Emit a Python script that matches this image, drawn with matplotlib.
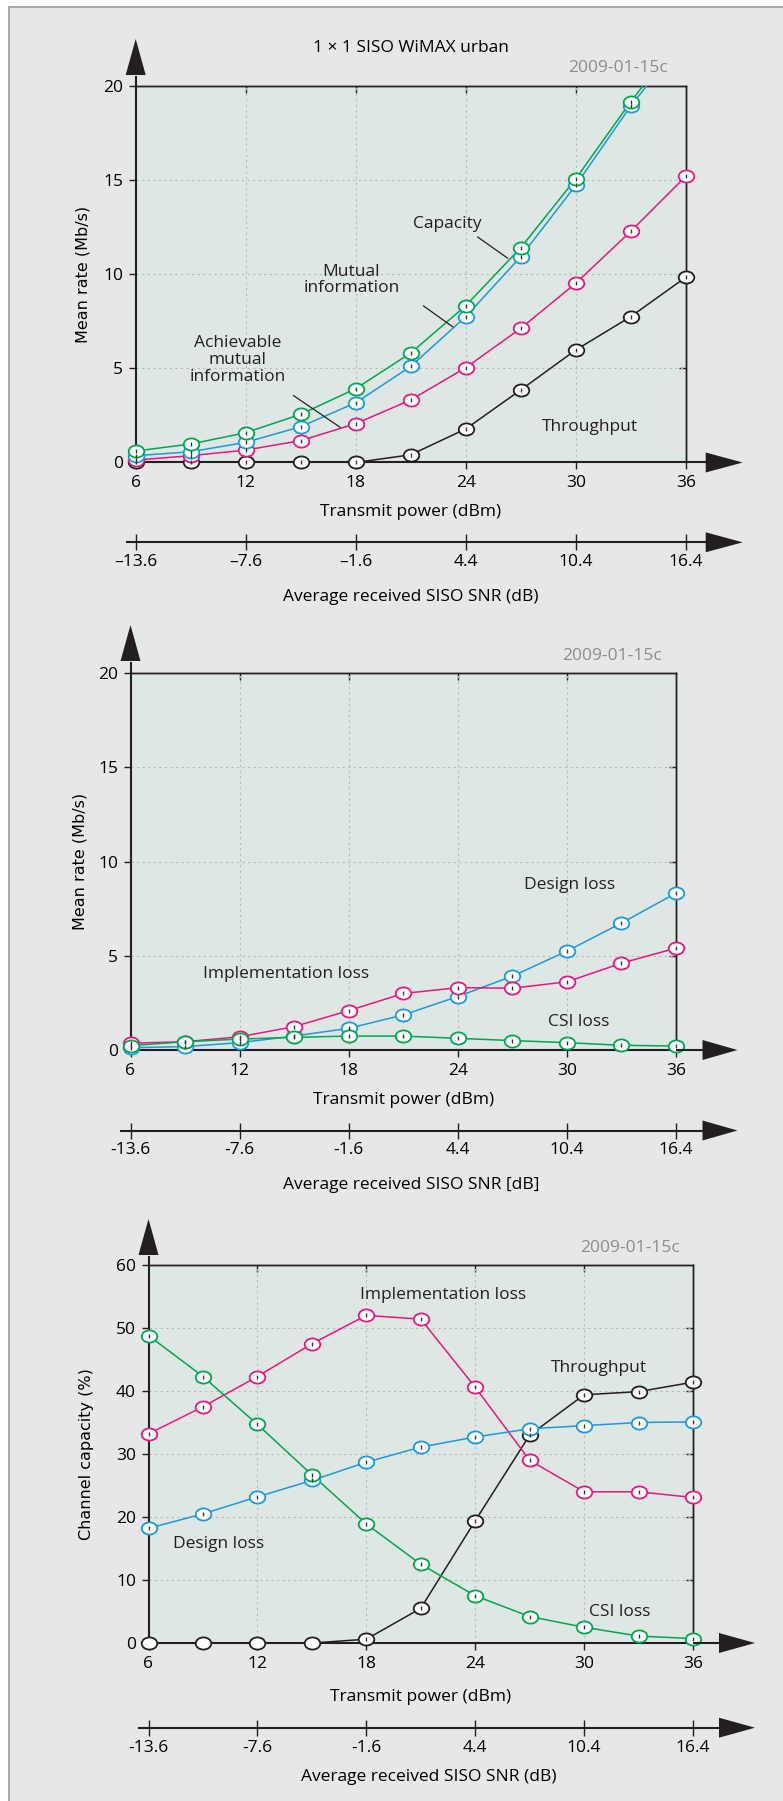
import matplotlib
matplotlib.use('Agg')
import matplotlib.pyplot as plt
import matplotlib.transforms as mtransforms
import numpy as np
from matplotlib.lines import Line2D
from matplotlib.patches import Polygon, Rectangle
from matplotlib.path import Path

W, H = 783, 1801

# data
power = [6, 9, 12, 15, 18, 21, 24, 27, 30, 33, 36]
power_ticks = [6, 12, 18, 24, 30, 36]
snr_ticks_1 = ['\u201313.6', '\u20137.6', '\u20131.6', '4.4', '10.4', '16.4']
snr_ticks_23 = ['-13.6', '-7.6', '-1.6', '4.4', '10.4', '16.4']

capacity = [0.61, 0.98, 1.58, 2.56, 3.92, 5.81, 8.32, 11.4, 15.05, 19.15, 22.9]
mutual_info = [0.36, 0.57, 1.07, 1.90, 3.17, 5.10, 7.74, 10.92, 14.71, 18.92, 22.6]
achievable_mi = [0.13, 0.36, 0.66, 1.16, 2.06, 3.32, 5.03, 7.12, 9.51, 12.27, 15.19]
throughput = [0.0, 0.0, 0.0, 0.0, 0.0, 0.41, 1.78, 3.85, 5.97, 7.74, 9.83]

design_loss = [0.12, 0.18, 0.39, 0.74, 1.15, 1.86, 2.84, 3.92, 5.25, 6.74, 8.33]
impl_loss = [0.36, 0.44, 0.70, 1.24, 2.09, 3.00, 3.31, 3.28, 3.62, 4.61, 5.41]
csi_loss = [0.23, 0.44, 0.58, 0.67, 0.74, 0.74, 0.62, 0.50, 0.39, 0.25, 0.21]

csi_pct = [48.8, 42.3, 34.7, 26.7, 18.9, 12.5, 7.5, 4.2, 2.5, 1.1, 0.7]
impl_pct = [33.2, 37.5, 42.3, 47.5, 52.0, 51.4, 40.6, 29.0, 24.0, 24.0, 23.1]
design_pct = [18.2, 20.5, 23.2, 25.8, 28.7, 31.1, 32.7, 34.0, 34.5, 35.0, 35.1]
thru_pct = [0.0, 0.0, 0.0, 0.0, 0.6, 5.5, 19.4, 33.0, 39.4, 39.9, 41.4]

GREEN = '#00a650'
BLUE = '#1b9ad8'
PINK = '#e8177d'
BLACK = '#231f20'
FIG_BG = '#e6e7e9'
PLOT_BG = '#dfe7e4'
GRID = '#b4bcb9'
STAMP = '#8c8c8c'
FONT = ['Open Sans', 'DejaVu Sans']
FS = 12.5

ELLIPSE = Path.unit_circle().transformed(mtransforms.Affine2D().scale(1.0, 0.78))


def fx(x):
    return x / W


def fy(y):
    return 1 - y / H


def fig_line(fig, xs, ys, lw=1.5):
    fig.add_artist(Line2D([fx(v) for v in xs], [fy(v) for v in ys],
                          transform=fig.transFigure, color=BLACK, lw=lw,
                          solid_capstyle='butt'))


def fig_tri(fig, pts):
    fig.add_artist(Polygon([(fx(a), fy(b)) for a, b in pts], closed=True,
                           transform=fig.transFigure, color=BLACK, lw=0))


def fig_text(fig, x, y, s, **kw):
    kw.setdefault('family', FONT)
    kw.setdefault('fontsize', FS)
    kw.setdefault('ha', 'center')
    kw.setdefault('va', 'center')
    fig.text(fx(x), fy(y), s, **kw)


def make_panel(fig, box, ylim, yticks, arrow, ylabel, ylabel_x, xlabel_y,
               snr_y, snr_start, snr_labels, snr_title, snr_title_xy, stamp_xy):
    l, t, r, b = box
    ax = fig.add_axes([fx(l), fy(b), (r - l) / W, (b - t) / H])
    ax.set_facecolor(PLOT_BG)
    ax.set_xlim(6, 36)
    ax.set_ylim(*ylim)
    ax.set_xticks(power_ticks)
    ax.set_yticks(yticks)
    ax.set_xticklabels([str(v) for v in power_ticks], family=FONT, fontsize=FS)
    ax.set_yticklabels([str(v) for v in yticks], family=FONT, fontsize=FS)
    ax.tick_params(direction='out', length=5, width=1, color=BLACK, pad=4)
    for sp in ['left', 'bottom']:
        ax.spines[sp].set_linewidth(1.5)
    for sp in ['top', 'right']:
        ax.spines[sp].set_linewidth(1.0)
    for sp in ax.spines.values():
        sp.set_color(BLACK)
        sp.set_zorder(2.5)
    for v in power_ticks[1:-1]:
        ax.axvline(v, color=GRID, lw=0.8, ls=(0, (2, 3)), zorder=1)
    for v in yticks[1:-1]:
        ax.axhline(v, color=GRID, lw=0.8, ls=(0, (2, 3)), zorder=1)
    # inner ticks on top and right
    top = ax.secondary_xaxis('top')
    top.set_xticks(power_ticks[1:-1])
    top.tick_params(direction='in', length=5, width=1, labeltop=False, color=BLACK)
    top.spines['top'].set_linewidth(1.0)
    right = ax.secondary_yaxis('right')
    right.set_yticks(yticks[1:-1])
    right.tick_params(direction='in', length=5, width=1, labelright=False, color=BLACK)
    right.spines['right'].set_linewidth(1.0)

    # axis arrows
    up_tip, up_base, rx_base, rx_tip = arrow
    fig_line(fig, [l, l], [t, up_base + 1])
    fig_tri(fig, [(l - 10, up_base), (l + 10, up_base), (l, up_tip)])
    fig_line(fig, [r, rx_base + 1], [b, b])
    fig_tri(fig, [(rx_base, b - 10), (rx_base, b + 10), (rx_tip, b)])

    fig_text(fig, ylabel_x, (t + b) / 2, ylabel, rotation=90,
             family=['DejaVu Sans'], fontsize=11.5)
    fig_text(fig, (l + r) / 2, xlabel_y, 'Transmit power (dBm)')
    fig_text(fig, stamp_xy[0], stamp_xy[1], '2009-01-15c', ha='right', color=STAMP)

    # second (SNR) axis
    ppu = (r - l) / 30.0
    ax2 = fig.add_axes([fx(snr_start), fy(snr_y), (rx_base - snr_start) / W, 0.0001])
    ax2.set_xlim(6 + (snr_start - l) / ppu, 6 + (rx_base - l) / ppu)
    ax2.patch.set_alpha(0)
    for sp in ['left', 'right', 'top']:
        ax2.spines[sp].set_visible(False)
    ax2.spines['bottom'].set_linewidth(1.5)
    ax2.spines['bottom'].set_color(BLACK)
    ax2.set_yticks([])
    ax2.set_xticks(power_ticks)
    ax2.set_xticklabels(snr_labels, family=FONT, fontsize=FS)
    ax2.tick_params(axis='x', direction='inout', length=11, width=1, color=BLACK, pad=3)
    fig_tri(fig, [(rx_base, snr_y - 10), (rx_base, snr_y + 10), (rx_tip, snr_y)])
    fig_text(fig, snr_title_xy[0], snr_title_xy[1], snr_title)
    return ax


def draw_series(ax, x, y, color, tick_mask=None):
    x = np.asarray(x, dtype=float)
    y = np.asarray(y, dtype=float)
    ax.plot(x, y, color=color, lw=1.1, zorder=3)
    inside = y <= ax.get_ylim()[1]
    ax.plot(x[inside], y[inside], ls='none', marker=ELLIPSE, ms=11.2,
            mfc='white', mec=color, mew=1.3, zorder=4, clip_on=False)
    if tick_mask is None:
        tick_mask = np.ones_like(inside)
    sel = inside & np.asarray(tick_mask, dtype=bool)
    ax.plot(x[sel], y[sel], ls='none', marker='|', ms=3.2, mew=1.0,
            color='#333333', zorder=5, clip_on=False)


def label(ax, x, y, s):
    ax.text(x, y, s, family=FONT, fontsize=FS, ha='center', va='center',
            color=BLACK, linespacing=1.05, zorder=6)


fig = plt.figure(figsize=(W / 100, H / 100), dpi=100)
fig.patch.set_facecolor('white')
fig.add_artist(Rectangle((fx(9), -0.01), 1.0, fy(7) + 0.01, transform=fig.transFigure,
                         facecolor=FIG_BG, edgecolor='#9a9a9a', lw=1.2, zorder=0))

# panel 1
ax1 = make_panel(fig, (135.7, 85.7, 685.7, 462.5), (0, 20), [0, 5, 10, 15, 20],
                 (39, 75, 705.7, 742.7), 'Mean rate (Mb/s)', 82.5, 511.7,
                 542.3, 127.5, snr_ticks_1, 'Average received SISO SNR (dB)',
                 (411, 596.7), (667.5, 68))
fig_text(fig, 411, 48, '1 \u00d7 1 SISO WiMAX urban')
draw_series(ax1, power, throughput, BLACK)
draw_series(ax1, power, achievable_mi, PINK)
draw_series(ax1, power, mutual_info, BLUE)
draw_series(ax1, power, capacity, GREEN)
label(ax1, 23.0, 12.66, 'Capacity')
ax1.plot([24.65, 26.28], [11.97, 10.85], color=BLACK, lw=0.9, zorder=6)
label(ax1, 17.77, 9.69, 'Mutual\ninformation')
ax1.plot([21.70, 23.28], [8.31, 7.21], color=BLACK, lw=0.9, zorder=6)
label(ax1, 11.55, 5.44, 'Achievable\nmutual\ninformation')
ax1.plot([14.61, 17.15], [3.55, 1.87], color=BLACK, lw=0.9, zorder=6)
label(ax1, 30.78, 1.90, 'Throughput')

# panel 2
ax2 = make_panel(fig, (130.5, 673.3, 676, 1050), (0, 20), [0, 5, 10, 15, 20],
                 (625, 661, 702.5, 737.5), 'Mean rate (Mb/s)', 80, 1100,
                 1130.5, 121, snr_ticks_23, 'Average received SISO SNR [dB]',
                 (411, 1185), (661.5, 656))
draw_series(ax2, power, design_loss, BLUE)
draw_series(ax2, power, impl_loss, PINK)
draw_series(ax2, power, csi_loss, GREEN)
label(ax2, 30.12, 8.76, 'Design loss')
label(ax2, 14.58, 4.04, 'Implementation loss')
label(ax2, 30.64, 1.50, 'CSI loss')

# panel 3
ax3 = make_panel(fig, (148.5, 1265, 693, 1643), (0, 60), [0, 10, 20, 30, 40, 50, 60],
                 (1219, 1255, 719, 755), 'Channel capacity (%)', 86, 1696.7,
                 1727.7, 139, snr_ticks_23, 'Average received SISO SNR (dB)',
                 (429, 1776.7), (680, 1248))
draw_series(ax3, power, thru_pct, BLACK, tick_mask=[v > 0 for v in thru_pct])
draw_series(ax3, power, impl_pct, PINK)
draw_series(ax3, power, design_pct, BLUE)
draw_series(ax3, power, csi_pct, GREEN)
label(ax3, 22.25, 55.2, 'Implementation loss')
label(ax3, 30.79, 43.7, 'Throughput')
label(ax3, 9.86, 15.7, 'Design loss')
label(ax3, 31.98, 4.87, 'CSI loss')

fig.savefig('out.png', dpi=100, facecolor=fig.get_facecolor())
